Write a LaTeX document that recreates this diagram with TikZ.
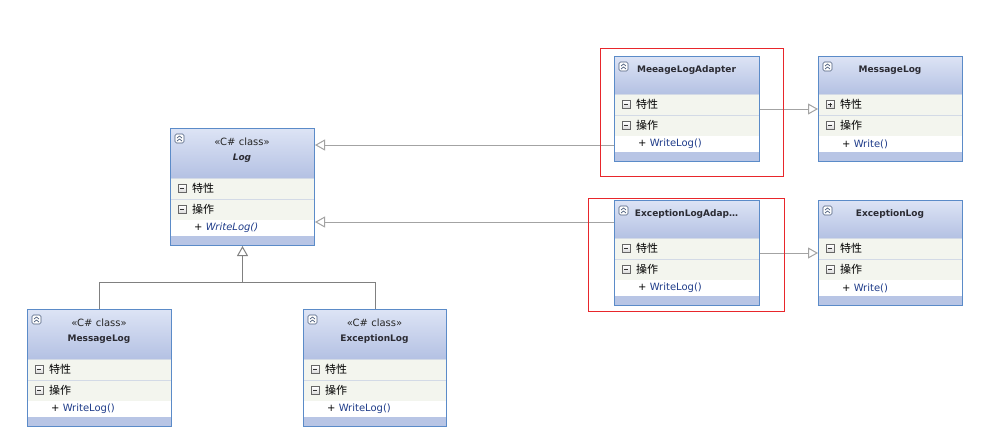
\documentclass[tikz,border=0pt]{standalone}
\usepackage{fontspec}
\setmainfont{DejaVu Sans}
\newfontfamily\cjk{Noto Sans CJK SC}
\usetikzlibrary{arrows.meta}

\definecolor{umlborder}{HTML}{5B8BC8}
\definecolor{hdrtop}{HTML}{DDE4F5}
\definecolor{hdrbottom}{HTML}{B4C1E3}
\definecolor{rowfill}{HTML}{F3F5EE}
\definecolor{rowline}{HTML}{D3DAE6}
\definecolor{footfill}{HTML}{B8C5E5}
\definecolor{methodblue}{HTML}{1F3C8A}
\definecolor{linkgray}{HTML}{A3A3A3}
\definecolor{treegray}{HTML}{808080}
\definecolor{framered}{HTML}{E8262B}
\definecolor{titlecol}{HTML}{2B2B33}
\definecolor{iconline}{HTML}{4B5D7C}

\tikzset{
  classbox/.style={draw=umlborder,line width=1pt,rectangle,inner sep=0pt,anchor=north west},
  foldicon/.style={draw=iconline,fill=white,line width=0.6pt,rounded corners=1.5pt},
  rowicon/.style={draw=black!60,top color=white,bottom color=black!15,line width=0.6pt},
  stereo/.style={font=\fontsize{10}{12}\selectfont,text=black!85},
  classtitle/.style={font=\bfseries\fontsize{9}{11}\selectfont,text=titlecol},
  rowtext/.style={font=\cjk\fontsize{11}{13}\selectfont,anchor=west,inner sep=0pt},
  methodtext/.style={font=\fontsize{10}{12}\selectfont,anchor=west,inner sep=0pt},
  inherit/.style={draw=linkgray,line width=1pt,-{Triangle[length=10pt,width=11pt,fill=white]}},
  tree/.style={draw=treegray,line width=1pt},
  redframe/.style={draw=framered,line width=1pt}
}

% #1 name, #2 x, #3 y, #4 width, #5 header height, #6 title/method font, #7 title, #8 p = folded attributes, #9 method
\newcommand{\umlclass}[9]{%
  \shade[top color=hdrtop,bottom color=hdrbottom] ({#2},{#3}) rectangle ({#2+#4},{#3+#5});
  \fill[rowfill] ({#2},{#3+#5}) rectangle ({#2+#4},{#3+#5+42});
  \draw[rowline] ({#2},{#3+#5+0.5}) -- ({#2+#4},{#3+#5+0.5});
  \draw[rowline] ({#2},{#3+#5+21}) -- ({#2+#4},{#3+#5+21});
  \fill[white] ({#2},{#3+#5+42}) rectangle ({#2+#4},{#3+#5+58});
  \fill[footfill] ({#2},{#3+#5+58}) rectangle ({#2+#4},{#3+#5+67});
  \draw[foldicon] ({#2+5},{#3+6}) rectangle ({#2+14},{#3+15});
  \draw[iconline,line width=0.7pt] ({#2+7},{#3+10}) -- ({#2+9.5},{#3+8}) -- ({#2+12},{#3+10})
    ({#2+7},{#3+13}) -- ({#2+9.5},{#3+11}) -- ({#2+12},{#3+13});
  \ifnum#5>40 \node[stereo] at ({#2+#4/2},{#3+14}) {«C\# class»};\fi
  \node[classtitle] at ({#2+#4/2},{#3+(#5>40?30:14)}) {#6#7};
  \draw[rowicon] ({#2+8},{#3+#5+6.5}) rectangle ({#2+16},{#3+#5+14.5});
  \draw[black!80,line width=0.8pt] ({#2+10},{#3+#5+10.5}) -- ({#2+14},{#3+#5+10.5});
  \ifx p#8\draw[black!80,line width=0.8pt] ({#2+12},{#3+#5+8.5}) -- ({#2+12},{#3+#5+12.5});\fi
  \node[rowtext] at ({#2+22},{#3+#5+10.5}) {特性};
  \draw[rowicon] ({#2+8},{#3+#5+27.5}) rectangle ({#2+16},{#3+#5+35.5});
  \draw[black!80,line width=0.8pt] ({#2+10},{#3+#5+31.5}) -- ({#2+14},{#3+#5+31.5});
  \node[rowtext] at ({#2+22},{#3+#5+31.5}) {操作};
  \node[methodtext] at ({#2+24},{#3+#5+50}) {#6+ \textcolor{methodblue}{#9}};
  \node[classbox,minimum width=#4,minimum height=#5+67] (#1) at ({#2},{#3}) {};
}

\begin{document}
\begin{tikzpicture}[x=1pt,y=-1pt,line cap=butt,line join=miter]
  \useasboundingbox[fill=white] (0,0) rectangle (992,445);

  % base class and its subclasses
  \umlclass{log}{170}{128}{144}{50}{\itshape}{Log}{m}{WriteLog()}
  \umlclass{msgLog}{27}{309}{144}{50}{}{MessageLog}{m}{WriteLog()}
  \umlclass{excLog}{303}{309}{143}{50}{}{ExceptionLog}{m}{WriteLog()}

  % adapters and adaptees
  \umlclass{msgAdapter}{614}{56}{145}{38}{}{MeeageLogAdapter}{m}{WriteLog()}
  \umlclass{msgTarget}{818}{56}{144}{38}{}{MessageLog}{p}{Write()}
  \umlclass{excAdapter}{614}{200}{145}{38}{}{ExceptionLogAdap…}{m}{WriteLog()}
  \umlclass{excTarget}{818}{200}{144}{38}{}{ExceptionLog}{m}{Write()}

  \coordinate (msgLink) at (0,145);
  \coordinate (excLink) at (0,222);
  \coordinate (msgUse) at (0,109);
  \coordinate (excUse) at (0,253);
  \coordinate (bus) at (0,282);

  % inheritance tree
  \draw[tree] (msgLog.north) |- (excLog.north |- bus) -- (excLog.north);
  \draw[tree,-{Triangle[length=10pt,width=11pt,fill=white]}] (log.south |- bus) -- (log.south);

  % adapter links
  \draw[inherit] (msgAdapter.west |- msgLink) -- (log.east |- msgLink);
  \draw[inherit] (excAdapter.west |- excLink) -- (log.east |- excLink);
  \draw[inherit] (msgAdapter.east |- msgUse) -- (msgTarget.west |- msgUse);
  \draw[inherit] (excAdapter.east |- excUse) -- (excTarget.west |- excUse);

  % highlight frames
  \draw[redframe] (600,48) rectangle (783,176);
  \draw[redframe] (588,198) rectangle (784,311);
\end{tikzpicture}
\end{document}
